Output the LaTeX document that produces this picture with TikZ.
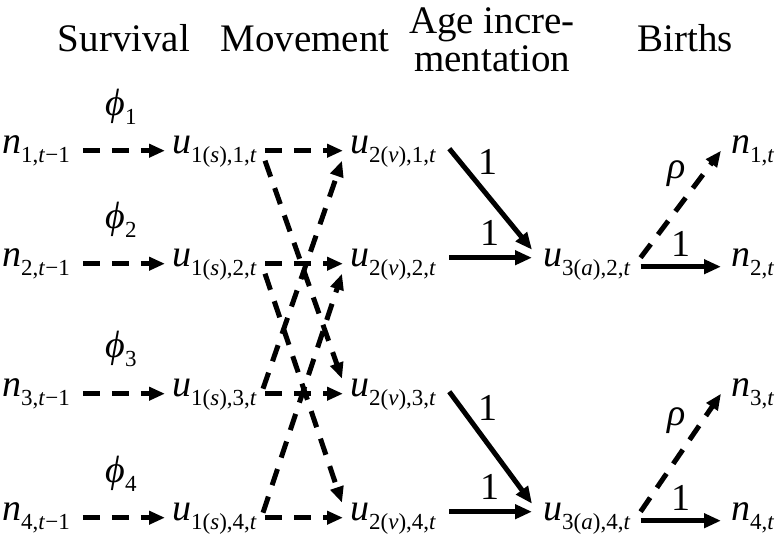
\documentclass[tikz,border=0pt]{standalone}
\usepackage{fontspec}
\setmainfont{Liberation Serif}
\usetikzlibrary{arrows.meta}

\begin{document}
\begin{tikzpicture}[x=1pt, y=-1pt,
    lbl/.style={font=\fontsize{38}{38}\selectfont, inner sep=0pt, anchor=base west},
    head/.style={font=\fontsize{39}{38}\selectfont, inner sep=0pt, align=center},
    wlbl/.style={font=\fontsize{38}{38}\selectfont, inner sep=2pt},
    dasharrow/.style={line width=5pt, dash pattern=on 17pt off 12pt, -{Triangle[length=16pt, width=13pt]}},
    fullarrow/.style={line width=5pt, -{Triangle[length=17pt, width=14pt]}}]

    \useasboundingbox (0,0) rectangle (776,543);

    % Macro for a symbol with its subscript
    % \lsym{letter}{subscript}
    \newcommand{\lsym}[2]{\textit{#1}\raisebox{-9pt}{\fontsize{23}{23}\selectfont #2}}

    % 1. Column headings
    \node[head, anchor=base] (hsurv) at (124,52) {Survival};
    \node[head, anchor=base] (hmove) at (305,52) {Movement};
    \node[head] (hage) at (492,40) {Age incre-\\mentation};
    \node[head, anchor=base] (hbirth) at (685,52) {Births};

    % 2. Rows: survival and movement
    \foreach \i/\b in {1/153, 2/266, 3/396, 4/520} {
        \node[lbl] (n\i) at (2,\b) {\lsym{n}{\i,\textit{t}−1}};
        \node[lbl] (s\i) at (172,\b) {\lsym{u}{1(\textit{s}),\i,\textit{t}}};
        \node[lbl] (v\i) at (350,\b) {\lsym{u}{2(\textit{v}),\i,\textit{t}}};
        \node[lbl] (b\i) at (731,\b) {\lsym{n}{\i,\textit{t}}};
        \draw[dasharrow, shorten <=13pt, shorten >=7pt] (n\i.mid east) -- node[wlbl, above=22pt] {\lsym{ϕ}{\i}} (s\i.mid west);
        \draw[dasharrow, shorten <=8pt, shorten >=7pt] (s\i.mid east) -- (v\i.mid west);
    }

    % 3. Crossing movement arrows
    \foreach \p/\q in {1/3, 2/4} {
        \draw[dasharrow] ([xshift=8pt, yshift=-10pt]s\p.mid east) -- ([xshift=-8pt, yshift=15pt]v\q.mid west);
        \draw[dasharrow] ([xshift=6pt, yshift=5pt]s\q.mid east) -- ([xshift=-8pt, yshift=-10pt]v\p.mid west);
    }

    % 4. Age incrementation and births
    \foreach \k/\j/\b in {2/1/266, 4/3/520} {
        \node[lbl] (a\k) at (543,\b) {\lsym{u}{3(\textit{a}),\k,\textit{t}}};
        \draw[fullarrow] ([xshift=13pt, yshift=2pt]v\j.mid east) -- node[wlbl, above right, pos=0.3] {1} ([xshift=-11pt, yshift=14pt]a\k.mid west);
        \draw[fullarrow, shorten <=13pt, shorten >=11pt] ([yshift=6pt]v\k.mid east) -- node[wlbl, above=8pt] {1} ([yshift=6pt]a\k.mid west);
        \draw[dasharrow] ([xshift=10pt, yshift=6pt]a\k.mid east) -- node[wlbl, above left, pos=0.62] {\textit{ρ}} ([xshift=-10pt]b\j.mid west);
        \draw[fullarrow, shorten <=10pt, shorten >=10pt] ([yshift=-3pt]a\k.mid east) -- node[wlbl, above=6pt] {1} ([yshift=-3pt]b\k.mid west);
    }

\end{tikzpicture}
\end{document}
